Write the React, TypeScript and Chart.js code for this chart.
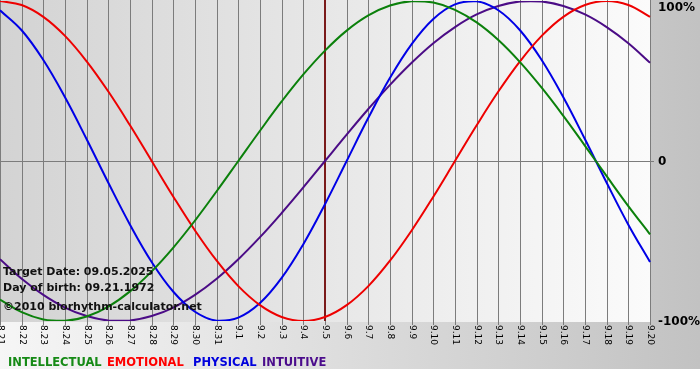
import React, { useEffect, useRef } from "react";
import { Chart, registerables } from "chart.js";

Chart.register(...registerables);

const dayLabels: string[] = [
  "8.21", "8.22", "8.23", "8.24", "8.25", "8.26", "8.27", "8.28", "8.29", "8.30", "8.31",
  "9.1", "9.2", "9.3", "9.4", "9.5", "9.6", "9.7", "9.8", "9.9", "9.10",
  "9.11", "9.12", "9.13", "9.14", "9.15", "9.16", "9.17", "9.18", "9.19", "9.20",
];

const intellectual: number[] = [
  -86.6, -94.5, -99.0, -99.9, -97.2, -91.0, -81.5, -69.0, -54.1, -37.2, -18.9,
  0, 18.9, 37.2, 54.1, 69.0, 81.5, 91.0, 97.2, 99.9, 99.0,
  94.5, 86.6, 75.6, 61.8, 45.8, 28.2, 9.5, -9.5, -28.2, -45.8,
];

const emotional: number[] = [
  100, 97.5, 90.1, 78.2, 62.3, 43.4, 22.3, 0, -22.3, -43.4, -62.3,
  -78.2, -90.1, -97.5, -100, -97.5, -90.1, -78.2, -62.3, -43.4, -22.3,
  0, 22.3, 43.4, 62.3, 78.2, 90.1, 97.5, 100, 97.5, 90.1,
];

const physical: number[] = [
  94.2, 81.7, 63.1, 39.8, 13.6, -13.6, -39.8, -63.1, -81.7, -94.2, -99.8,
  -97.9, -88.8, -73.1, -52.0, -27.0, 0, 27.0, 52.0, 73.1, 88.8,
  97.9, 99.8, 94.2, 81.7, 63.1, 39.8, 13.6, -13.6, -39.8, -63.1,
];

const intuitive: number[] = [
  -61.4, -73.6, -83.7, -91.6, -96.9, -99.7, -99.7, -96.9, -91.6, -83.7, -73.6,
  -61.4, -47.6, -32.5, -16.5, 0, 16.5, 32.5, 47.6, 61.4, 73.6,
  83.7, 91.6, 96.9, 99.7, 99.7, 96.9, 91.6, 83.7, 73.6, 61.4,
];

const seriesNames: string[] = ["INTELLECTUAL", "EMOTIONAL", "PHYSICAL", "INTUITIVE"];
const seriesColors: string[] = ["#0b800b", "#ee0000", "#0000e6", "#4b0c86"];
const legendColors: string[] = ["#168a16", "#ff0000", "#0000dd", "#4b0c8c"];
const legendX: number[] = [8, 107, 193, 262];

const targetIndex = 15; // 9.5
const infoLines: string[] = [
  "Target Date: 09.05.2025",
  "Day of birth: 09.21.1972",
  "\u00a92010 biorhythm-calculator.net",
];
const yTickValues: number[] = [100, 0, -100];
const yTickTexts: string[] = ["100%", "0", "-100%"];

const FONT = "'DejaVu Sans', Verdana, sans-serif";

const decorPlugin = {
  id: "biodecor",
  beforeDraw(chart: any) {
    const { ctx, chartArea, width } = chart;
    const { left, right, top, bottom } = chartArea;
    ctx.save();
    ctx.fillStyle = "#ffffff";
    ctx.fillRect(0, 0, width, chart.height);
    const outer = ctx.createLinearGradient(0, 0, width, 0);
    outer.addColorStop(0, "#f6f6f6");
    outer.addColorStop(1, "#c2c2c2");
    ctx.fillStyle = outer;
    ctx.fillRect(0, 0, width, 369);
    const inner = ctx.createLinearGradient(left, 0, right, 0);
    inner.addColorStop(0, "#d3d3d3");
    inner.addColorStop(1, "#fbfbfb");
    ctx.fillStyle = inner;
    ctx.fillRect(left, 0, right - left + 1, bottom + 1);

    const xs = chart.scales.x;
    const ys = chart.scales.y;
    ctx.strokeStyle = "#7c7c7c";
    ctx.lineWidth = 1;
    for (let i = 0; i < dayLabels.length; i++) {
      const x = Math.round(xs.getPixelForValue(i)) + 0.5;
      ctx.beginPath();
      ctx.moveTo(x, 0);
      ctx.lineTo(x, bottom + 4);
      ctx.stroke();
    }
    const y0 = Math.round(ys.getPixelForValue(0)) + 0.5;
    ctx.beginPath();
    ctx.moveTo(left, y0);
    ctx.lineTo(right + 4, y0);
    ctx.stroke();

    const tx = Math.round(xs.getPixelForValue(targetIndex));
    ctx.strokeStyle = "#7a1a1a";
    ctx.lineWidth = 2;
    ctx.beginPath();
    ctx.moveTo(tx, 0);
    ctx.lineTo(tx, bottom);
    ctx.stroke();

    // x tick labels, rotated clockwise
    ctx.fillStyle = "#000000";
    ctx.font = `9px ${FONT}`;
    ctx.textAlign = "left";
    ctx.textBaseline = "middle";
    for (let i = 0; i < dayLabels.length; i++) {
      const x = xs.getPixelForValue(i);
      ctx.save();
      ctx.translate(x + 0.5, bottom + 4);
      ctx.rotate(Math.PI / 2);
      ctx.fillText(dayLabels[i], 0, 0);
      ctx.restore();
    }
    // y labels on the right
    ctx.font = `bold 12px ${FONT}`;
    ctx.textBaseline = "middle";
    for (let i = 0; i < yTickValues.length; i++) {
      let y = ys.getPixelForValue(yTickValues[i]);
      if (i === 0) y += 6;
      ctx.fillText(yTickTexts[i], right + 8, y + 1);
    }
    // legend
    ctx.font = `bold 11.5px ${FONT}`;
    ctx.textBaseline = "alphabetic";
    for (let i = 0; i < seriesNames.length; i++) {
      ctx.fillStyle = legendColors[i];
      ctx.fillText(seriesNames[i], legendX[i], 366);
    }
    ctx.restore();
  },
  afterDatasetsDraw(chart: any) {
    const { ctx } = chart;
    ctx.save();
    ctx.fillStyle = "#111111";
    ctx.font = `bold 11px ${FONT}`;
    ctx.textAlign = "left";
    ctx.textBaseline = "alphabetic";
    const baselines = [275, 291, 310];
    for (let i = 0; i < infoLines.length; i++) {
      ctx.fillText(infoLines[i], 3, baselines[i]);
    }
    ctx.restore();
  },
};

export default function App() {
  const canvasRef = useRef<HTMLCanvasElement | null>(null);

  useEffect(() => {
    if (!canvasRef.current) return;
    const data = [intellectual, emotional, physical, intuitive];
    const chart = new Chart(canvasRef.current, {
      type: "line",
      data: {
        labels: dayLabels,
        datasets: data.map((d, i) => ({
          label: seriesNames[i],
          data: d,
          borderColor: seriesColors[i],
          backgroundColor: seriesColors[i],
          borderWidth: 2,
          pointRadius: 0,
          tension: 0.4,
          fill: false,
        })),
      },
      options: {
        responsive: false,
        animation: false,
        layout: { padding: { left: 0, right: 50, top: 1, bottom: 59 } },
        plugins: { legend: { display: false }, tooltip: { enabled: false } },
        scales: {
          x: { display: false, offset: false },
          y: { display: false, min: -100, max: 100 },
        },
      },
      plugins: [decorPlugin],
    });
    return () => chart.destroy();
  }, []);

  return (
    <div style={{ position: "absolute", left: 0, top: 0, width: 700, height: 380 }}>
      <canvas ref={canvasRef} width={700} height={380} />
    </div>
  );
}
